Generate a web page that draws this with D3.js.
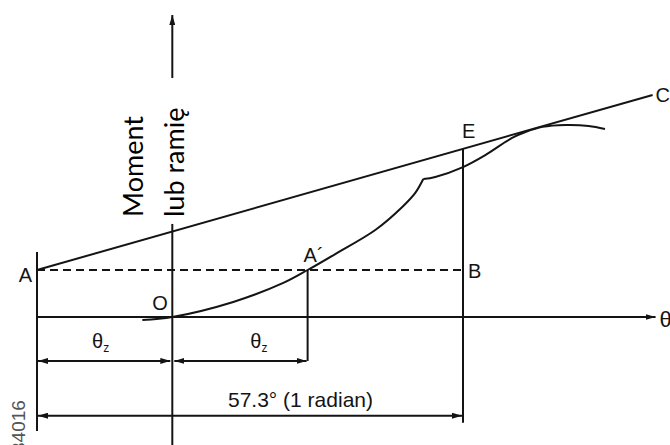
<!DOCTYPE html>
<html>
<head>
<meta charset="utf-8">
<script src="https://cdn.jsdelivr.net/npm/d3@7"></script>
<style>
  html, body { margin: 0; padding: 0; background: #fff; }
  svg { display: block; }
</style>
</head>
<body>
<svg id="chart" width="670" height="445"></svg>
<script>
// ---- data (θ in degrees, moment in arbitrary units) ----
const thetaZ = 18.2;
const radian = 57.3;
const thetaA = -thetaZ;            // vertical line through A
const thetaB = thetaA + radian;     // vertical line through B / E
const levelA = 2.0;                 // height of A, A', B
const curveLower = [[-4.03,-0.13],[0,0],[8.2,0.64],[14.93,1.45],[18.2,2.0],[21.92,2.68],[27.3,3.70],[30.93,4.68],[32.68,5.28],[33.76,5.87]];
const curveUpper = [[33.76,5.87],[35.37,5.96],[39.1,6.38],[42.1,6.89],[45.7,7.62],[47.5,7.87],[49.8,8.09],[52.9,8.17],[56.0,8.13],[58.2,8.0]];
const tangentAC = [[thetaA, levelA],[64.6, 9.45]];
const momentAxisTop = 12.85, momentGapTop = 10.17, momentGapBottom = 3.96, momentAxisBottom = -5.5;
const thetaAxisEnd = 65.0;
const dim1Level = -1.87, dim2Level = -4.2;
const labelMoment = ["Moment", "lub ramię"];
const labelRadian = "57.3° (1 radian)";
const figureId = "34016";

// ---- scales ----
const x = d3.scaleLinear().domain([thetaA, thetaB]).range([37, 463]);
const y = d3.scaleLinear().domain([0, levelA]).range([317, 270]);
const tangentAt = t => tangentAC[0][1] + (t - tangentAC[0][0]) * (tangentAC[1][1] - tangentAC[0][1]) / (tangentAC[1][0] - tangentAC[0][0]);

const svg = d3.select("#chart");
const ink = "#141414";
const defs = svg.append("defs");
defs.append("marker").attr("id","arr").attr("viewBox","0 0 10 6").attr("refX",10).attr("refY",3)
  .attr("markerUnits","userSpaceOnUse").attr("markerWidth",10).attr("markerHeight",6)
  .attr("orient","auto-start-reverse")
  .append("path").attr("d","M0,0 L10,3 L0,6 Z").attr("fill",ink);

const seg = (x1,y1,x2,y2,opt={}) => {
  const l = svg.append("line").attr("x1",x1).attr("y1",y1).attr("x2",x2).attr("y2",y2)
    .attr("stroke",ink).attr("stroke-width",opt.w||2);
  if (opt.dash) l.attr("stroke-dasharray",opt.dash);
  if (opt.end) l.attr("marker-end","url(#arr)");
  if (opt.start) l.attr("marker-start","url(#arr)");
  return l;
};

// θ axis
seg(x(thetaA), y(0), x(thetaAxisEnd), y(0), {end:true});
// moment axis (two parts around label)
seg(x(0), y(momentGapTop), x(0), y(momentAxisTop), {end:true});
seg(x(0), y(momentGapBottom), x(0), y(momentAxisBottom));
// vertical through A
seg(x(thetaA), y(2.77), x(thetaA), y(-4.85));
// vertical through B/E
seg(x(thetaB), y(tangentAt(thetaB)), x(thetaB), y(-4.5));
// vertical at A'
seg(x(thetaZ), y(levelA), x(thetaZ), y(dim1Level));
// dashed A-B
seg(x(thetaA), y(levelA), x(thetaB), y(levelA), {dash:"8,5"});
// tangent A-C
seg(x(tangentAC[0][0]), y(tangentAC[0][1]), x(tangentAC[1][0]), y(tangentAC[1][1]));
// dimension lines
seg(x(thetaA)+1, y(dim1Level), x(0)-2, y(dim1Level), {start:true,end:true});
seg(x(0)+2, y(dim1Level), x(thetaZ)-1, y(dim1Level), {start:true,end:true});
seg(x(thetaA)+1, y(dim2Level), x(thetaB)-1, y(dim2Level), {start:true,end:true});

// curve
const line = d3.line().x(d=>x(d[0])).y(d=>y(d[1])).curve(d3.curveCatmullRom.alpha(0.5));
[curveLower, curveUpper].forEach(c => svg.append("path").attr("d", line(c))
  .attr("fill","none").attr("stroke",ink).attr("stroke-width",2));

// labels
const lab = (t, px, py, opt={}) => svg.append("text").attr("x",px).attr("y",py)
  .attr("font-family", opt.family || "Liberation Sans, Arial, sans-serif")
  .attr("font-size", opt.size || 20).attr("fill", opt.fill || ink)
  .attr("text-anchor", opt.anchor || "start").text(t);

lab("A", x(thetaA)-5, y(levelA)+12, {anchor:"end"});
lab("B", x(thetaB)+5, y(levelA)+8);
lab("C", x(tangentAC[1][0])+3, y(tangentAC[1][1])+7);
lab("E", x(thetaB)-1, y(tangentAt(thetaB))-11);
lab("O", x(0)-20, y(0)-7);
lab("A´", x(thetaZ)-4, y(levelA)-8);
lab("θ", x(thetaAxisEnd)+4, y(0)+10, {size:22});

[x(thetaA)+55, x(0)+78].forEach(px => {
  const t = svg.append("text").attr("x",px).attr("y",y(dim1Level)-13)
    .attr("font-family","Liberation Sans, Arial, sans-serif").attr("font-size",20).attr("fill",ink);
  t.append("tspan").text("θ");
  t.append("tspan").attr("font-size",12).attr("dy",4).text("z");
});

lab(labelRadian, 228, y(dim2Level)-9, {size:21});

// rotated texts
const rot = (t, bx, by, opt={}) => svg.append("text")
  .attr("transform", `translate(${bx},${by}) rotate(-90)`)
  .attr("font-family", opt.family || "Liberation Sans, Arial, sans-serif")
  .attr("font-size", opt.size || 20).attr("fill", opt.fill || ink).text(t);

rot(labelMoment[0], 143, 217, {family:"Lato, sans-serif", size:27, fill:"#000"});
rot(labelMoment[1], 184, 217, {family:"Lato, sans-serif", size:27, fill:"#000"});
rot(figureId, 25, 453, {size:19, fill:"#555"});
</script>
</body>
</html>
